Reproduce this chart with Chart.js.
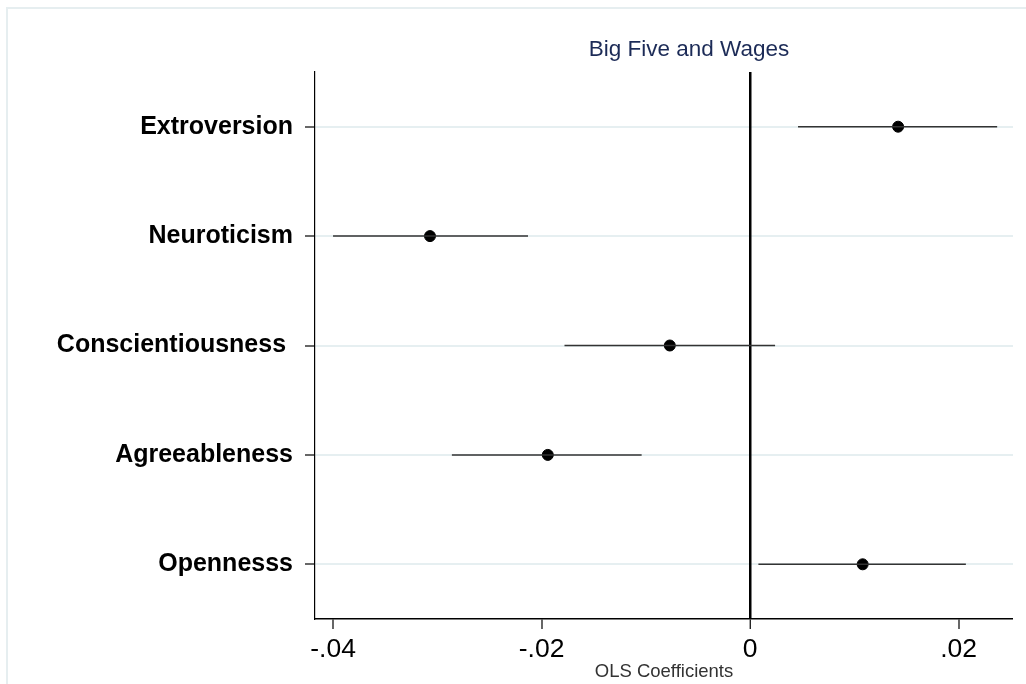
<!DOCTYPE html>
<html>
<head>
<meta charset="utf-8">
<script src="https://cdn.jsdelivr.net/npm/chart.js@4"></script>
<style>
  html, body { margin: 0; padding: 0; background: #fff; }
  #wrap { position: relative; width: 1026px; height: 684px; overflow: hidden; }
  #frame { position: absolute; left: 6px; top: 7px; right: -4px; bottom: -4px;
           border-left: 2px solid #e6eef0; border-top: 2px solid #e6eef0; }
  canvas { position: absolute; left: 0; top: 0; }
</style>
</head>
<body>
<div id="wrap">
  <div id="frame"></div>
  <canvas id="myChart" width="1026" height="684"></canvas>
</div>
<script>
// Categories, top to bottom
const categories = ["Extroversion", "Neuroticism", "Conscientiousness ", "Agreeableness", "Opennesss"];

// OLS coefficients and confidence interval bounds
const coef  = [0.0142, -0.0307, -0.0077, -0.0194, 0.0108];
const lower = [0.0046, -0.0400, -0.0178, -0.0286, 0.0008];
const upper = [0.0237, -0.0213,  0.0024, -0.0104, 0.0207];

// x axis ticks
const xTickValues = [-0.04, -0.02, 0, 0.02];
const xTickLabels = ["-.04", "-.02", "0", ".02"];

const FONT = "'Liberation Sans', Arial, sans-serif";

// one line dataset per confidence interval
const ciSets = categories.map((c, i) => ({
  type: "line",
  data: [{ x: lower[i], y: i + 1 }, { x: upper[i], y: i + 1 }],
  borderColor: "#333333",
  borderWidth: 1.5,
  pointRadius: 0,
  fill: false,
}));

const pointSet = {
  type: "scatter",
  data: coef.map((v, i) => ({ x: v, y: i + 1 })),
  backgroundColor: "#000",
  borderColor: "#000",
  pointRadius: 5.5,
};

// title drawn above the plot region
const titlePlugin = {
  id: "stataTitle",
  afterDraw(chart) {
    const c = chart.ctx;
    c.save();
    c.font = "22.5px " + FONT;
    c.fillStyle = "#1c2b57";
    c.textAlign = "center";
    c.textBaseline = "middle";
    c.fillText("Big Five and Wages", 689, 50);
    c.restore();
  },
};

const ctx = document.getElementById("myChart").getContext("2d");
new Chart(ctx, {
  data: { datasets: [...ciSets, pointSet] },
  plugins: [titlePlugin],
  options: {
    responsive: false,
    animation: false,
    layout: { padding: { left: 0, right: 13, top: 72, bottom: 0 } },
    plugins: { legend: { display: false }, tooltip: { enabled: false } },
    scales: {
      x: {
        type: "linear",
        min: -0.04173,
        max: 0.02522,
        afterBuildTicks: (s) => { s.ticks = xTickValues.map((v) => ({ value: v })); },
        afterFit: (s) => { s.height = 65; },
        border: { color: "#000", width: 1.5 },
        grid: {
          z: -1,
          color: (c) => (c.tick && c.tick.value === 0 ? "#000" : "rgba(0,0,0,0)"),
          lineWidth: (c) => (c.tick && c.tick.value === 0 ? 2.5 : 0),
          tickColor: "#000",
          tickLength: 10,
          tickWidth: 1.2,
        },
        ticks: {
          color: "#000",
          font: { family: FONT, size: 26.5 },
          padding: 5,
          maxRotation: 0,
          callback: (v) => xTickLabels[xTickValues.indexOf(v)],
        },
        title: {
          display: true,
          text: "OLS Coefficients",
          color: "#333",
          font: { family: FONT, size: 18.5 },
          padding: { top: 0, bottom: 1 },
        },
      },
      y: {
        type: "linear",
        reverse: true,
        min: 0.5,
        max: 5.5,
        afterBuildTicks: (s) => { s.ticks = categories.map((c, i) => ({ value: i + 1 })); },
        afterFit: (s) => { s.width = 315; },
        border: { color: "#000", width: 1.2 },
        grid: {
          z: -3,
          color: "#e6eff1",
          lineWidth: 2,
          tickColor: "#000",
          tickLength: 10,
          tickWidth: 1.2,
        },
        ticks: {
          color: "#000",
          font: { family: FONT, size: 25, weight: "bold" },
          padding: 12,
          callback: (v) => categories[v - 1],
        },
      },
    },
  },
});
</script>
</body>
</html>
